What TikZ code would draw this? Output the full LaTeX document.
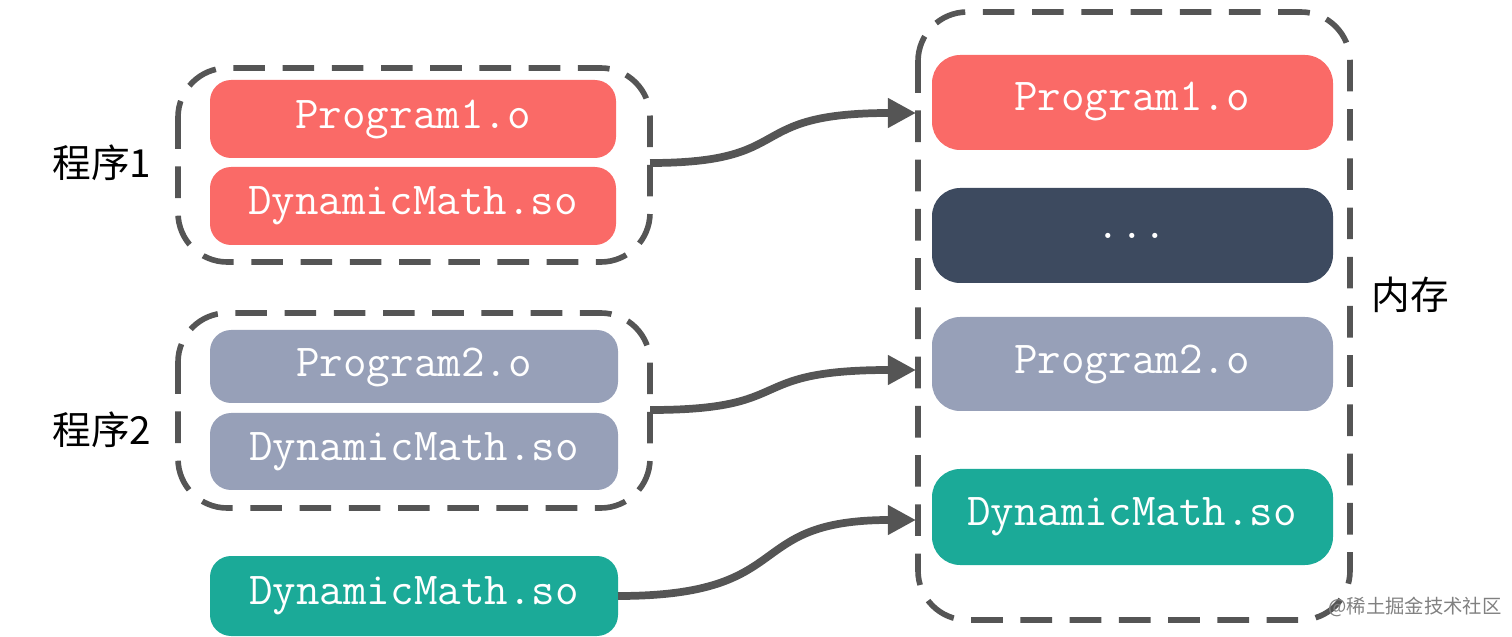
\documentclass[tikz,border=0pt]{standalone}
\usepackage{fontspec}
\newfontfamily\cjk{Noto Sans CJK SC}
\usetikzlibrary{arrows.meta}
\definecolor{cred}{HTML}{FA6A67}
\definecolor{cgray}{HTML}{97A0B8}
\definecolor{cteal}{HTML}{1BAA98}
\definecolor{cdark}{HTML}{3D4A5F}
\definecolor{cline}{HTML}{555555}
\begin{document}
\begin{tikzpicture}[x=0.01cm,y=-0.01cm,
  blk/.style={rounded corners=6pt,text=white,font=\fontsize{13}{15}\selectfont\ttfamily},
  grp/.style={draw=cline,line width=1.6pt,dash pattern=on 9pt off 5pt,rounded corners=14pt},
  lab/.style={font=\cjk\fontsize{11}{13}\selectfont,text=black},
  con/.style={draw=cline,line width=2.2pt,-{Triangle[length=8pt,width=8pt]}}]
\useasboundingbox (0,0) rectangle (1512,637);
% groups
\draw[grp] (178,68) rectangle (650,262);
\draw[grp] (178,313) rectangle (650,508);
\draw[grp] (918,12) rectangle (1350,620);
% left blocks
\fill[cred,rounded corners=6pt] (210,80) rectangle (616,158);
\node[blk] (p1) at (413,119) {Program1.o};
\fill[cred,rounded corners=6pt] (210,167) rectangle (616,245);
\node[blk] (d1) at (413,206) {DynamicMath.so};
\fill[cgray,rounded corners=6pt] (210,330) rectangle (618,403);
\node[blk] (p2) at (414,367) {Program2.o};
\fill[cgray,rounded corners=6pt] (210,413) rectangle (618,490);
\node[blk] (d2) at (414,452) {DynamicMath.so};
\fill[cteal,rounded corners=6pt] (210,556) rectangle (618,636);
\node[blk] (d3) at (414,596) {DynamicMath.so};
% right blocks
\fill[cred,rounded corners=8pt] (932,55) rectangle (1333,150);
\node[blk] (rp1) at (1132,102) {Program1.o};
\fill[cdark,rounded corners=8pt] (932,188) rectangle (1333,283);
\node[blk] (rdots) at (1132,236) {...};
\fill[cgray,rounded corners=8pt] (932,317) rectangle (1333,411);
\node[blk] (rp2) at (1132,364) {Program2.o};
\fill[cteal,rounded corners=8pt] (932,469) rectangle (1333,565);
\node[blk] (rd) at (1132,517) {DynamicMath.so};
% labels
\node[lab] (l1) at (102,163) {程序1};
\node[lab] (l2) at (102,430) {程序2};
\node[lab] (mem) at (1410,295) {内存};
\node[font=\cjk\fontsize{5.5}{6}\selectfont,text=gray] (wm) at (1415,607) {@稀土掘金技术社区};
% connectors
\coordinate (a1) at (650,163); \coordinate (b1) at (916,113);
\coordinate (a2) at (650,410); \coordinate (b2) at (916,370);
\coordinate (a3) at (618,596); \coordinate (b3) at (916,520);
\draw[con] (a1) .. controls (800,163) and (740,113) .. (b1);
\draw[con] (a2) .. controls (800,410) and (740,370) .. (b2);
\draw[con] (a3) .. controls (800,596) and (740,520) .. (b3);
\end{tikzpicture}
\end{document}
